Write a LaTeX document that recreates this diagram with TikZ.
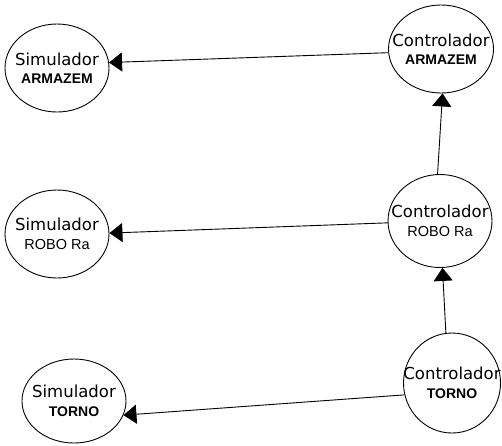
\documentclass[tikz,border=0pt]{standalone}
\usepackage{fontspec}
\setmainfont{DejaVu Sans}
\newfontfamily\segfont{Liberation Sans}
\usepackage{tikz}
\usetikzlibrary{arrows.meta,shapes.geometric}
\newcommand{\linhab}[1]{{\segfont\fontsize{14}{15}\selectfont\bfseries #1}}
\newcommand{\linhan}[1]{{\segfont\fontsize{14.5}{15}\selectfont #1}}

\begin{document}
\begin{tikzpicture}[
  x=1pt,y=-1pt,
  every node/.style={font=\fontsize{16.5}{18.5}\selectfont},
  proc/.style={draw,ellipse,line width=0.9pt,align=center,inner xsep=-18pt,inner ysep=-6pt,minimum width=104pt,minimum height=88pt},
  fl/.style={-{Triangle[length=13pt,width=19pt]},line width=0.9pt}
]
\useasboundingbox (0,0) rectangle (502,445);
% simuladores
\node[proc] (simA) at (57,68) {Simulador\\\linhab{ARMAZEM}};
\node[proc] (simR) at (57,234) {Simulador\\\linhan{ROBO Ra}};
\node[proc,minimum height=84pt] (simT) at (74,401) {Simulador\\\linhab{TORNO}};
% controladores
\node[proc,minimum width=105pt] (ctlA) at (441,49) {Controlador\\\linhab{ARMAZEM}};
\node[proc,minimum height=93pt] (ctlR) at (440,221) {Controlador\\\linhan{ROBO Ra}};
\node[proc,minimum width=97pt,minimum height=100pt] (ctlT) at (452,383) {Controlador\\\linhab{TORNO}};
\draw[fl] (ctlA.184) -- (simA.6);
\draw[fl] (ctlR.182) -- (simR.1);
\draw[fl] (ctlT.194) -- (simT.344);
\draw[fl] (ctlR.93) -- (ctlA.272);
\draw[fl] (ctlT.97) -- (ctlR.273);
\end{tikzpicture}
\end{document}
